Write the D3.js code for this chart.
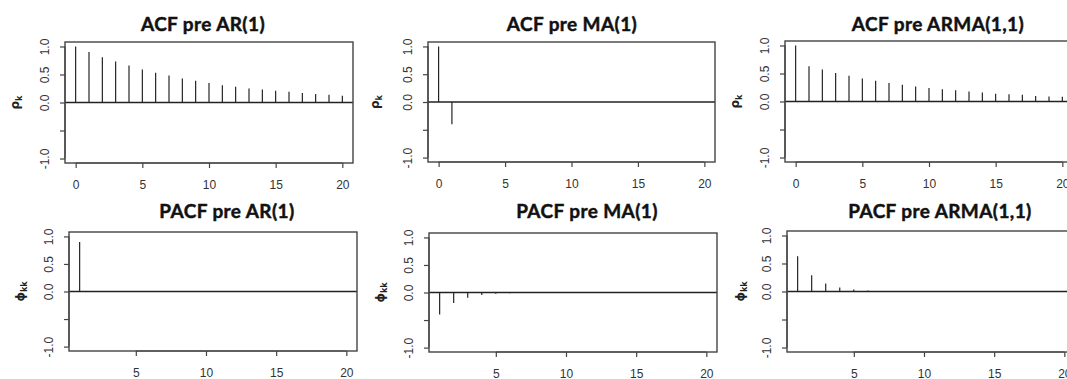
<!DOCTYPE html>
<html><head><meta charset="utf-8">
<script src="https://cdn.jsdelivr.net/npm/d3@7"></script>
<style>body{margin:0;background:#fff}svg{display:block}</style>
</head><body>
<svg id="c" width="1067" height="379"></svg>
<script>
// ---- data ----
const acfLags = [0,1,2,3,4,5,6,7,8,9,10,11,12,13,14,15,16,17,18,19,20];
const acfAR1 = [1.00,0.90,0.81,0.73,0.66,0.59,0.53,0.48,0.43,0.39,0.35,0.31,0.28,0.25,0.23,0.21,0.19,0.17,0.15,0.14,0.12];
const acfMA1Lags = [0,1];
const acfMA1 = [1.00,-0.40];
const acfARMA11 = [1.00,0.63,0.57,0.51,0.46,0.41,0.37,0.33,0.30,0.27,0.24,0.22,0.20,0.18,0.16,0.14,0.13,0.12,0.10,0.09,0.085];
const pacfAR1Lags = [1];
const pacfAR1 = [0.90];
const pacfLags6 = [1,2,3,4,5,6];
const pacfMA1 = [-0.40,-0.19,-0.095,-0.047,-0.024,-0.012];
const pacfARMA11 = [0.63,0.29,0.142,0.071,0.035,0.018];

const titles = ["ACF pre AR(1)","ACF pre MA(1)","ACF pre ARMA(1,1)","PACF pre AR(1)","PACF pre MA(1)","PACF pre ARMA(1,1)"];
const yTicks = [-1,-0.5,0,0.5,1];
const yTickLabels = ["-1.0","","0.0","0.5","1.0"];
const xTicksAcf = [0,5,10,15,20];
const xTicksPacf = [5,10,15,20];

// ---- layout ----
const panels = [
  {lags:acfLags, vals:acfAR1, x0:65, x1:353, y0:42, y1:163, xd:[-0.8,20.8], xt:xTicksAcf, tx:203, ty:31, lab:"ρ", sub:"k", lx:15},
  {lags:acfMA1Lags, vals:acfMA1, x0:428, x1:715, y0:42, y1:162, xd:[-0.8,20.8], xt:xTicksAcf, tx:572, ty:31, lab:"ρ", sub:"k", lx:375},
  {lags:acfLags, vals:acfARMA11, x0:785, x1:1073, y0:41, y1:162, xd:[-0.8,20.8], xt:xTicksAcf, tx:938, ty:31, lab:"ρ", sub:"k", lx:735},
  {lags:pacfAR1Lags, vals:pacfAR1, x0:69, x1:357, y0:232, y1:351, xd:[0.24,20.76], xt:xTicksPacf, tx:227, ty:218, lab:"ϕ", sub:"kk", lx:20},
  {lags:pacfLags6, vals:pacfMA1, x0:429, x1:717, y0:233, y1:352, xd:[0.24,20.76], xt:xTicksPacf, tx:587, ty:218, lab:"ϕ", sub:"kk", lx:380},
  {lags:pacfLags6, vals:pacfARMA11, x0:787, x1:1075, y0:231, y1:352, xd:[0.24,20.76], xt:xTicksPacf, tx:940, ty:218, lab:"ϕ", sub:"kk", lx:740}
];

const svg = d3.select("#c");
const tickFont = "'Liberation Sans', Arial, sans-serif";

panels.forEach((p,i)=>{
  const x = d3.scaleLinear().domain(p.xd).range([p.x0,p.x1]);
  const y = d3.scaleLinear().domain([-1.08,1.08]).range([p.y1,p.y0]);
  const g = svg.append("g");

  // title
  g.append("text").attr("x",p.tx).attr("y",p.ty).attr("text-anchor","middle")
    .attr("font-family","Lato, 'Open Sans', sans-serif").attr("font-weight","bold")
    .attr("font-size",19).attr("letter-spacing","0.4px")
    .attr("fill","#111").attr("stroke","#111").attr("stroke-width",0.45)
    .text(titles[i]);

  // spikes
  g.selectAll("line.spike").data(p.lags.map((l,k)=>({l,v:p.vals[k]}))).enter()
    .append("line").attr("class","spike")
    .attr("x1",d=>x(d.l)).attr("x2",d=>x(d.l))
    .attr("y1",y(0)).attr("y2",d=>y(d.v))
    .attr("stroke","#111").attr("stroke-width",1.1);

  // zero line
  g.append("line").attr("x1",p.x0).attr("x2",p.x1).attr("y1",y(0)).attr("y2",y(0))
    .attr("stroke","#222").attr("stroke-width",1.4);

  // box
  g.append("rect").attr("x",p.x0).attr("y",p.y0).attr("width",p.x1-p.x0).attr("height",p.y1-p.y0)
    .attr("fill","none").attr("stroke","#444").attr("stroke-width",1.4);

  // y axis
  const ya = d3.axisLeft(y).tickValues(yTicks).tickSize(5).tickFormat((d,k)=>yTickLabels[k]);
  const yg = g.append("g").attr("transform",`translate(${p.x0},0)`).call(ya);
  yg.selectAll(".domain").remove();
  yg.append("line").attr("x1",0).attr("x2",0).attr("y1",y(-1)).attr("y2",y(1)).attr("stroke","#444").attr("stroke-width",1.2);
  yg.selectAll(".tick line").attr("stroke","#444").attr("stroke-width",1.2);
  yg.selectAll(".tick text").attr("font-family",tickFont).attr("font-size",12).attr("fill","#333")
    .attr("text-anchor","middle").attr("x",0).attr("dy",0)
    .attr("transform","translate(-20,0) rotate(-90)")
    .attr("y",4);

  // x axis
  const xa = d3.axisBottom(x).tickValues(p.xt).tickSize(5).tickFormat(d3.format("d"));
  const xg = g.append("g").attr("transform",`translate(0,${p.y1})`).call(xa);
  xg.selectAll(".domain").remove();
  xg.append("line").attr("x1",x(p.xt[0])).attr("x2",x(p.xt[p.xt.length-1])).attr("y1",0).attr("y2",0)
    .attr("stroke","#444").attr("stroke-width",1.2);
  xg.selectAll(".tick line").attr("stroke","#444").attr("stroke-width",1.2);
  xg.selectAll(".tick text").attr("font-family",tickFont).attr("font-size",12).attr("fill","#333")
    .attr("y",17).attr("dy","0.71em");

  // y label
  const cy = (p.y0+p.y1)/2;
  const lt = g.append("text").attr("transform",`translate(${p.lx+4},${cy}) rotate(-90)`)
    .attr("text-anchor","middle").attr("font-family","'DejaVu Sans', sans-serif")
    .attr("font-weight","bold").attr("font-size",12).attr("fill","#222");
  lt.append("tspan").text(p.lab);
  lt.append("tspan").attr("font-size",8).attr("dy",3).text(p.sub);
});
</script>
</body></html>
